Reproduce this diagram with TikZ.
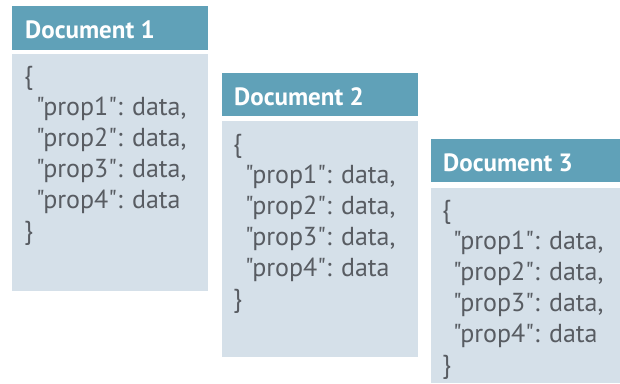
\documentclass[tikz,border=0pt]{standalone}
\usepackage{fontspec}
\setmainfont{PT Sans}[Ligatures=TeXOff]
\begin{document}
\definecolor{hdr}{RGB}{96,161,184}
\definecolor{bodyc}{RGB}{213,224,233}
\definecolor{txt}{RGB}{88,92,98}
\begin{tikzpicture}[x=1pt,y=-1pt,
  hdrbox/.style={fill=hdr,draw=none},
  bodybox/.style={fill=bodyc,draw=none},
  hdrtext/.style={anchor=base west,inner sep=0pt,text=white,font=\fontsize{25}{25}\selectfont\bfseries},
  jsontext/.style={anchor=base west,inner sep=0pt,text=txt,align=left,font=\fontsize{26}{31}\selectfont}
]
\useasboundingbox[fill=white] (0,0) rectangle (620,383);
% Document 1
\fill[hdrbox] (12,6) rectangle (208,50);
\fill[bodybox] (12,54) rectangle (208,291);
\node[hdrtext] (h1) at (25,38) {Document 1};
\node[jsontext] (b1) at (24,239) {\{\\\hspace{12pt}"prop1": data,\\\hspace{12pt}"prop2": data,\\\hspace{12pt}"prop3": data,\\\hspace{12pt}"prop4": data\\\}};
% Document 2
\fill[hdrbox] (222,73) rectangle (418,116);
\fill[bodybox] (222,121) rectangle (418,357);
\node[hdrtext] (h2) at (234,105) {Document 2};
\node[jsontext] (b2) at (233,307) {\{\\\hspace{12pt}"prop1": data,\\\hspace{12pt}"prop2": data,\\\hspace{12pt}"prop3": data,\\\hspace{12pt}"prop4": data\\\}};
% Document 3
\fill[hdrbox] (431,139) rectangle (620,182);
\fill[bodybox] (431,188) rectangle (620,383);
\node[hdrtext] (h3) at (443,171) {Document 3};
\node[jsontext] (b3) at (442,373) {\{\\\hspace{11pt}"prop1": data,\\\hspace{11pt}"prop2": data,\\\hspace{11pt}"prop3": data,\\\hspace{11pt}"prop4": data\\\}};
\end{tikzpicture}
\end{document}
